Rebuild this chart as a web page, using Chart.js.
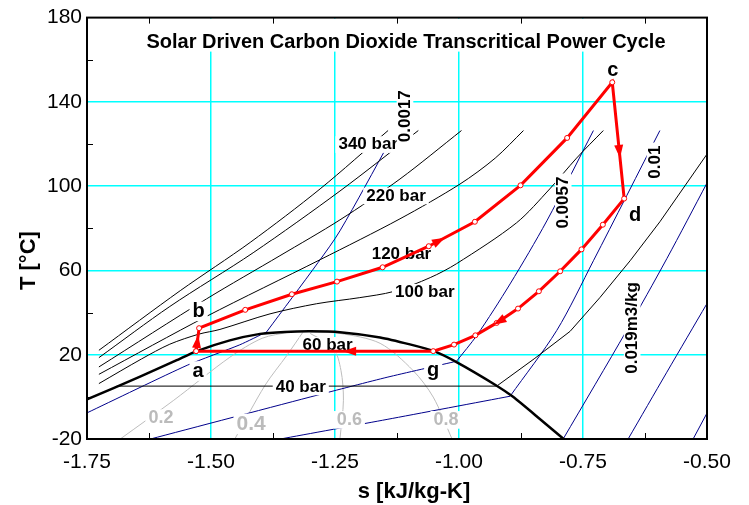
<!DOCTYPE html>
<html>
<head>
<meta charset="utf-8">
<script src="https://cdn.jsdelivr.net/npm/chart.js@4.4.0/dist/chart.umd.min.js"></script>
<style>
  html, body { margin: 0; padding: 0; background: #fff; }
</style>
</head>
<body>
<canvas id="tsChart" width="749" height="505"></canvas>
<script>
// T-s diagram data, [s kJ/kg-K, T °C] pairs

// saturation dome
var dome = [[-1.750,-1.2],[-1.643,9.6],[-1.569,17.4],[-1.530,21.6],[-1.462,26.8],[-1.401,29.9],[-1.351,30.8],
  [-1.300,31.1],[-1.240,30.7],[-1.159,28.2],[-1.099,24.9],[-1.052,21.8],[-1.005,16.5],[-0.924,5.3],
  [-0.891,0.0],[-0.837,-10.5],[-0.789,-20]];

// cycle a -> b -> c -> d -> g -> a
var cycle = [[-1.530,21.7],[-1.524,32.6],[-1.431,41.3],[-1.337,48.7],[-1.246,54.7],[-1.154,61.5],[-1.061,71.5],
  [-0.968,83.1],[-0.876,100.4],[-0.782,122.9],[-0.691,149.3],[-0.667,94.1],[-0.710,81.7],[-0.753,70.0],
  [-0.796,59.6],[-0.839,50.1],[-0.881,41.9],[-0.924,35.1],[-0.967,29.2],[-1.010,24.8],[-1.052,21.7],[-1.530,21.7]];

// isobars
var p340 = [[-1.726,22.1],[-1.562,50.4],[-1.421,73.3],[-1.280,98.7],[-1.143,126.4]];
var p280 = [[-1.726,18.6],[-1.583,42.9],[-1.415,68.4],[-1.240,97.7],[-1.082,126.4]];
var p220 = [[-1.726,14.2],[-1.509,46.5],[-1.361,67.0],[-1.240,84.0],[-1.119,103.4],[-0.995,126.4]];
var p160 = [[-1.726,10.7],[-1.509,38.2],[-1.280,65.1],[-1.119,84.5],[-0.998,101.0],[-0.927,113.3],[-0.870,126.4]];
var p100 = [[-1.726,6.3],[-1.640,18.0],[-1.583,25.0],[-1.524,29.8],[-1.482,32.0],[-1.381,39.4],[-1.287,44.2],
  [-1.200,47.1],[-1.132,50.0],[-1.058,56.6],[-1.005,63.2],[-0.884,82.6],[-0.817,98.7],[-0.763,113.3],[-0.709,126.4]];
var p40 = [[-1.690,5.1],[-0.924,5.1],[-0.847,18.3],[-0.776,31.1],[-0.716,47.1],[-0.655,64.6],[-0.595,83.1],[-0.500,115.2]];

// isochores (wet part / superheated part)
var v0017wet = [[-1.750,-7.6],[-1.548,15.0],[-1.442,24.7],[-1.388,30.8]];
var v0017 = [[-1.388,30.8],[-1.284,63.8],[-1.240,78.8],[-1.139,121.4]];
var v0057wet = [[-1.622,-20],[-1.286,0.8],[-1.145,9.3],[-1.005,16.9]];
var v0057 = [[-1.005,16.9],[-0.964,29.2],[-0.897,53.6],[-0.823,83.5],[-0.729,126.4]];
var v01wet = [[-1.360,-20],[-1.145,-10.7],[-0.897,0.3]];
var v01 = [[-0.897,0.3],[-0.803,31.5],[-0.729,64.6],[-0.595,126.4]];
var v019 = [[-0.790,-20],[-0.662,31.5],[-0.581,65.6],[-0.500,101.5]];
var v03 = [[-0.659,-20],[-0.581,11.7],[-0.500,44.3]];
var v05 = [[-0.528,-20],[-0.500,-7.7]];

// quality lines
var x02 = [[-1.683,-20],[-1.575,-1.6],[-1.462,18.8],[-1.397,27.8],[-1.341,30.8]];
var x04 = [[-1.452,-20],[-1.391,5.5],[-1.347,19.7],[-1.315,30.6]];
var x06 = [[-1.240,-20],[-1.233,-1.6],[-1.238,12.6],[-1.254,23.5],[-1.300,30.1]];
var x08 = [[-1.014,-20],[-1.052,-0.1],[-1.093,12.6],[-1.159,25.4],[-1.240,30.1],[-1.300,30.8]];

// text on the plot
var barLabels = [
  {text: '340 bar', s: -1.183, T: 117.4},
  {text: '220 bar', s: -1.127, T: 93.0},
  {text: '120 bar', s: -1.116, T: 65.6},
  {text: '100 bar', s: -1.069, T: 47.3},
  {text: '60 bar', s: -1.265, T: 22.1},
  {text: '40 bar', s: -1.319, T: 2.4}
];
var pointLabels = [
  {text: 'a', s: -1.526, T: 9.5},
  {text: 'b', s: -1.525, T: 37.8},
  {text: 'c', s: -0.690, T: 152.1},
  {text: 'd', s: -0.645, T: 83.5},
  {text: 'g', s: -1.052, T: 9.8}
];
var volLabels = [
  {text: '0.0017', s: -1.099, T: 133.2},
  {text: '0.0057', s: -0.780, T: 92.2},
  {text: '0.01', s: -0.595, T: 111.4},
  {text: '0.019m3/kg', s: -0.641, T: 32.7}
];
var qualLabels = [
  {text: '0.2', s: -1.601, T: -12.6, size: 18},
  {text: '0.4', s: -1.419, T: -15.7, size: 21},
  {text: '0.6', s: -1.221, T: -13.4, size: 18},
  {text: '0.8', s: -1.026, T: -13.4, size: 18}
];
// arrows on the cycle: segment start index, end index, position of tip
var cycleArrows = [
  {from: 0, to: 1, t: 0.7},
  {from: 6, to: 7, t: 0.35},
  {from: 10, to: 11, t: 0.65},
  {from: 17, to: 18, t: 0.15},
  {from: 20, to: 21, t: 0.38}
];
var minorS = [-1.625, -1.375, -1.125, -0.875, -0.625];
var minorT = [0, 40, 80, 120, 160];

var FONT = '"Liberation Sans", Arial, sans-serif';
Chart.defaults.font.family = FONT;

function pts(arr) {
  return arr.map(function (p) { return {x: p[0], y: p[1]}; });
}
function thin(arr, color, tension) {
  return {data: pts(arr), showLine: true, borderColor: color, borderWidth: 1, pointRadius: 0, tension: tension, fill: false};
}

var BLACK = '#000000', NAVY = '#00008B', GREY = '#BDBDBD';

var datasets = [
  {data: pts(cycle), showLine: true, borderColor: '#FF0000', borderWidth: 3, tension: 0,
   pointRadius: 2.5, pointBackgroundColor: '#FFFFFF', pointBorderColor: '#FF0000', pointBorderWidth: 1},
  {data: pts(dome), showLine: true, borderColor: BLACK, borderWidth: 2.5, pointRadius: 0, tension: 0.2},
  thin(p340, BLACK, 0.3), thin(p280, BLACK, 0.3), thin(p220, BLACK, 0.3), thin(p160, BLACK, 0.3),
  thin(p100, BLACK, 0.3), thin(p40, BLACK, 0),
  thin(v0017wet, NAVY, 0.2), thin(v0017, NAVY, 0.3), thin(v0057wet, NAVY, 0.2), thin(v0057, NAVY, 0.3),
  thin(v01wet, NAVY, 0.2), thin(v01, NAVY, 0.3), thin(v019, NAVY, 0.3), thin(v03, NAVY, 0.3), thin(v05, NAVY, 0),
  thin(x02, GREY, 0.3), thin(x04, GREY, 0.3), thin(x06, GREY, 0.3), thin(x08, GREY, 0.3)
];

function boxText(ctx, text, x, y, size, color, rotate) {
  ctx.save();
  ctx.font = 'bold ' + size + 'px ' + FONT;
  var w = ctx.measureText(text).width;
  ctx.translate(x, y);
  if (rotate) ctx.rotate(-Math.PI / 2);
  ctx.fillStyle = '#FFFFFF';
  ctx.fillRect(-w / 2 - 3, -size * 0.78, w + 6, size * 0.98);
  ctx.fillStyle = color;
  ctx.textAlign = 'center';
  ctx.textBaseline = 'alphabetic';
  ctx.fillText(text, 0, 0);
  ctx.restore();
}

function drawLabels(chart) {
  var ctx = chart.ctx, xs = chart.scales.x, ys = chart.scales.y;
  ctx.save();
  ctx.beginPath();
  ctx.rect(chart.chartArea.left, chart.chartArea.top, chart.chartArea.width, chart.chartArea.height);
  ctx.clip();
  barLabels.forEach(function (l) { boxText(ctx, l.text, xs.getPixelForValue(l.s), ys.getPixelForValue(l.T), 17, BLACK, false); });
  qualLabels.forEach(function (l) { boxText(ctx, l.text, xs.getPixelForValue(l.s), ys.getPixelForValue(l.T), l.size, '#BBBBBB', false); });
  volLabels.forEach(function (l) { boxText(ctx, l.text, xs.getPixelForValue(l.s), ys.getPixelForValue(l.T), 17, BLACK, true); });
  pointLabels.forEach(function (l) { boxText(ctx, l.text, xs.getPixelForValue(l.s), ys.getPixelForValue(l.T), 20, BLACK, false); });
  ctx.restore();
}

var annotate = {
  id: 'annotate',
  beforeDatasetsDraw: function (chart) {
    var ctx = chart.ctx, a = chart.chartArea;
    ctx.save();
    ctx.fillStyle = '#FFFFFF';
    ctx.fillRect(a.left + 53, a.top + 1, 532, 33);
    ctx.fillStyle = BLACK;
    ctx.font = 'bold 20px ' + FONT;
    ctx.textAlign = 'center';
    ctx.textBaseline = 'alphabetic';
    ctx.fillText('Solar Driven Carbon Dioxide Transcritical Power Cycle', a.left + 319, a.top + 30);
    ctx.restore();
  },
  beforeDatasetDraw: function (chart, args) {
    if (args.index === 0) drawLabels(chart);
  },
  afterDatasetsDraw: function (chart) {
    var ctx = chart.ctx, a = chart.chartArea, xs = chart.scales.x, ys = chart.scales.y;
    ctx.save();
    // arrows
    ctx.fillStyle = '#FF0000';
    cycleArrows.forEach(function (ar) {
      var p = cycle[ar.from], q = cycle[ar.to];
      var x1 = xs.getPixelForValue(p[0]), y1 = ys.getPixelForValue(p[1]);
      var x2 = xs.getPixelForValue(q[0]), y2 = ys.getPixelForValue(q[1]);
      var len = Math.hypot(x2 - x1, y2 - y1), ux = (x2 - x1) / len, uy = (y2 - y1) / len;
      var tx = x1 + (x2 - x1) * ar.t, ty = y1 + (y2 - y1) * ar.t;
      var L = 13, H = 4.5;
      ctx.beginPath();
      ctx.moveTo(tx, ty);
      ctx.lineTo(tx - ux * L - uy * H, ty - uy * L + ux * H);
      ctx.lineTo(tx - ux * L + uy * H, ty - uy * L - ux * H);
      ctx.closePath();
      ctx.fill();
    });
    // minor ticks
    ctx.strokeStyle = BLACK;
    ctx.lineWidth = 1;
    ctx.beginPath();
    minorS.forEach(function (s) {
      var x = Math.round(xs.getPixelForValue(s)) + 0.5;
      ctx.moveTo(x, a.bottom); ctx.lineTo(x, a.bottom - 6);
      ctx.moveTo(x, a.top); ctx.lineTo(x, a.top + 6);
    });
    minorT.forEach(function (t) {
      var y = Math.round(ys.getPixelForValue(t)) + 0.5;
      ctx.moveTo(a.left, y); ctx.lineTo(a.left + 6, y);
    });
    ctx.stroke();
    // frame
    ctx.lineWidth = 2;
    ctx.strokeRect(a.left, a.top, a.right - a.left, a.bottom - a.top);
    // axis titles
    ctx.fillStyle = BLACK;
    ctx.font = 'bold 22px ' + FONT;
    ctx.textAlign = 'center';
    ctx.textBaseline = 'alphabetic';
    ctx.fillText('s [kJ/kg-K]', a.left + 327, a.bottom + 59);
    ctx.translate(35, a.top + 243);
    ctx.rotate(-Math.PI / 2);
    ctx.fillText('T [°C]', 0, 0);
    ctx.restore();
  }
};

function edge(c, lo, hi) {
  var v = c.tick ? c.tick.value : null;
  return (v !== null && (Math.abs(v - lo) < 1e-6 || Math.abs(v - hi) < 1e-6)) ? 'rgba(0,0,0,0)' : '#00FFFF';
}

new Chart(document.getElementById('tsChart').getContext('2d'), {
  type: 'scatter',
  data: {datasets: datasets},
  options: {
    responsive: false,
    animation: false,
    devicePixelRatio: 1,
    layout: {padding: {top: 16, right: 42, left: 0, bottom: 0}},
    plugins: {legend: {display: false}, tooltip: {enabled: false}},
    scales: {
      x: {
        type: 'linear', min: -1.75, max: -0.5,
        afterFit: function (scale) { scale.height = 66; },
        ticks: {stepSize: 0.25, padding: 11, color: BLACK, font: {size: 21},
          callback: function (v) { return v.toFixed(2); }},
        grid: {drawTicks: false, lineWidth: 1.5, color: function (c) { return edge(c, -1.75, -0.5); }},
        border: {display: false}
      },
      y: {
        type: 'linear', min: -20, max: 180,
        afterFit: function (scale) { scale.width = 87; },
        ticks: {stepSize: 40, padding: 5, color: BLACK, font: {size: 21}},
        grid: {drawTicks: false, lineWidth: 1.5, color: function (c) { return edge(c, -20, 180); }},
        border: {display: false}
      }
    }
  },
  plugins: [annotate]
});
</script>
</body>
</html>
